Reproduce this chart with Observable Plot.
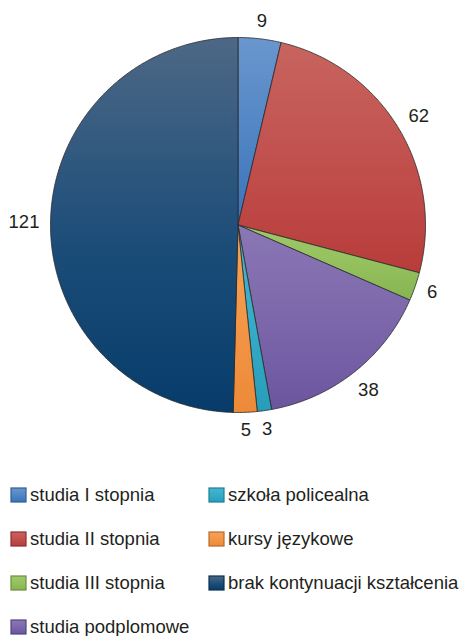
<!DOCTYPE html>
<html>
<head>
<meta charset="utf-8">
<script src="https://cdn.jsdelivr.net/npm/d3@7"></script>
<script src="https://cdn.jsdelivr.net/npm/@observablehq/plot@0.6"></script>
<style>
  html, body { margin: 0; padding: 0; background: #fff; }
  body { width: 464px; height: 636px; overflow: hidden; font-family: "Liberation Sans", Arial, sans-serif; color: #231f20; }
  #legend { position: relative; width: 464px; height: 176px; }
  .item { position: absolute; display: flex; align-items: center; font-size: 18.5px; white-space: nowrap; line-height: 1; }
  .item svg { margin-right: 3px; }
</style>
</head>
<body>
<div id="chart"></div>
<div id="legend"></div>
<script>
const categories = ["studia I stopnia", "studia II stopnia", "studia III stopnia", "studia podplomowe", "szkoła policealna", "kursy językowe", "brak kontynuacji kształcenia"];
const values = [9, 62, 6, 38, 3, 5, 121];
const colorTop = ["#6a96cd", "#c8645f", "#a0c86a", "#8a77b5", "#45b6ce", "#f6a256", "#4d6886"];
const colorMid = ["#4f84c4", "#c04f4c", "#93c05c", "#7c66aa", "#35abc7", "#f29546", "#1c4d79"];
const colorBottom = ["#3a74bc", "#b83c3a", "#86b450", "#6b559f", "#279dbb", "#ec8a38", "#073c6a"];
const borderColors = ["#2f5f95", "#8e2f2d", "#6a8f3d", "#54437f", "#1f7e96", "#b86a2a", "#0a2f52"];

const W = 464, H = 460;
const R = 187.5, cx = 237.5, cy = 224.5;
const fontSize = 18.5;

// Slice polygons in data units (unit circle)
const arcs = d3.pie().sort(null).value(d => d)(values);
const pts = [];
arcs.forEach((a, i) => {
  const cat = categories[i];
  pts.push({cat, x: 0, y: 0});
  const n = Math.max(4, Math.ceil((a.endAngle - a.startAngle) / (Math.PI / 360)));
  for (let k = 0; k <= n; k++) {
    const t = a.startAngle + (a.endAngle - a.startAngle) * k / n;
    pts.push({cat, x: Math.sin(t), y: Math.cos(t)});
  }
  pts.push({cat, x: 0, y: 0});
});

// Value labels outside the pie
const labels = arcs.map((a, i) => {
  const t = (a.startAngle + a.endAngle) / 2;
  const txt = String(values[i]);
  const w = txt.length * 0.556 * fontSize;
  const h = 0.716 * fontSize;
  const rPx = R + 11 + (w / 2) * Math.abs(Math.sin(t)) + (h / 2) * Math.abs(Math.cos(t));
  const r = rPx / R;
  return {x: r * Math.sin(t), y: r * Math.cos(t), text: txt};
});

const xDomain = [-cx / R, (W - cx) / R];
const yDomain = [-(H - cy) / R, cy / R];

const svg = Plot.plot({
  width: W,
  height: H,
  margin: 0,
  x: {domain: xDomain, axis: null},
  y: {domain: yDomain, axis: null},
  color: {type: "ordinal", domain: categories, range: categories.map((_, i) => `url(#g${i})`)},
  style: {fontFamily: "'Liberation Sans', Arial, sans-serif", background: "#fff", overflow: "visible"},
  marks: [
    Plot.line(pts, {x: "x", y: "y", z: "cat", fill: "cat", stroke: "#2a2a2a", strokeWidth: 0.8, strokeLinejoin: "round", curve: "linear"}),
    Plot.text(labels, {x: "x", y: "y", text: "text", fontSize: fontSize, fill: "#231f20"})
  ]
});

const defs = d3.select(svg).insert("defs", ":first-child");
categories.forEach((c, i) => {
  const g = defs.append("linearGradient").attr("id", `g${i}`).attr("x1", 0).attr("y1", 0).attr("x2", 0).attr("y2", 1);
  g.append("stop").attr("offset", "0%").attr("stop-color", colorTop[i]);
  g.append("stop").attr("offset", "55%").attr("stop-color", colorMid[i]);
  g.append("stop").attr("offset", "100%").attr("stop-color", colorBottom[i]);
});
document.getElementById("chart").appendChild(svg);

// Legend: two columns (4 + 3)
const legend = document.getElementById("legend");
categories.forEach((c, i) => {
  const col = i < 4 ? 0 : 1;
  const row = i < 4 ? i : i - 4;
  const div = document.createElement("div");
  div.className = "item";
  div.style.left = (col === 0 ? 10 : 208) + "px";
  div.style.top = (35 - 9 + row * 44) + "px";
  div.style.height = "18px";
  div.innerHTML = `<svg width="17" height="16" viewBox="0 0 17 16"><rect x="1" y="1" width="15" height="14" fill="url(#g${i})" stroke="${borderColors[i]}" stroke-width="1.2"/></svg><span>${c}</span>`;
  legend.appendChild(div);
});
</script>
</body>
</html>
